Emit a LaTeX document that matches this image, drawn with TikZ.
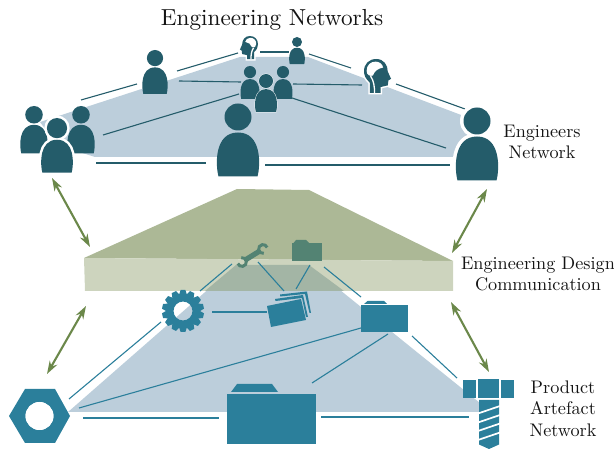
\documentclass[tikz,border=0pt]{standalone}
\usetikzlibrary{arrows.meta}
\definecolor{darkteal}{HTML}{245C6A}
\definecolor{artblue}{HTML}{2B7F9B}
\definecolor{planeblue}{HTML}{BCCEDB}
\definecolor{bandtop}{HTML}{ACB896}
\definecolor{bandfront}{HTML}{CDD4BE}
\definecolor{bandover}{HTML}{A3B5A5}
\definecolor{arrowgreen}{HTML}{6B884A}
\definecolor{bandicon}{HTML}{538373}
\font\labelfont="[lmroman10-regular]" at 18.2pt
\font\titlefont="[lmroman10-regular]" at 23.2pt
\newcommand\labelsetup{\labelfont\setlength{\baselineskip}{21.5pt}}
\tikzset{
  thinlink/.style={line width=1.1pt,line cap=butt},
  thicklink/.style={line width=2pt,line cap=butt},
  bothway/.style={arrowgreen,line width=2.1pt,{Stealth[length=13pt,width=8.5pt]}-{Stealth[length=13pt,width=8.5pt]}},
  label/.style={align=center,inner sep=0pt,font=\labelsetup,text=black!92},
}
% person: cx, top of head, scale, halo width
\newcommand\person[4]{%
  \begin{scope}[shift={(#1,#2)},scale=#3]
    \ifdim #4pt>0pt
      \draw[white,line width=#4pt,fill=white] (0,13.5) circle (13.5);
      \draw[white,line width=#4pt,fill=white] (-19.5,73) .. controls (-22.5,62) and (-24,29) .. (0,29) .. controls (24,29) and (22.5,62) .. (19.5,73) -- cycle;
    \fi
    \fill[darkteal] (0,13.5) circle (13.5);
    \fill[darkteal] (-19.5,73) .. controls (-22.5,62) and (-24,29) .. (0,29) .. controls (24,29) and (22.5,62) .. (19.5,73) -- cycle;
  \end{scope}}
% brain head: left edge, top, x scale (negative mirrors), y scale
\newcommand\brainhead[4]{%
  \begin{scope}[shift={(#1,#2)},xscale=#3,yscale=#4]
    \draw[white,line width=3pt,fill=white] (18,103) -- (18,72) .. controls (5,60) and (0,50) .. (0,37) .. controls (0,15) and (15,0) .. (37,0) .. controls (60,0) and (72,18) .. (72,38) -- (82,60) -- (74,65) -- (72,80) -- (50,85) -- (50,103) -- cycle;
    \fill[darkteal] (18,103) -- (18,72) .. controls (5,60) and (0,50) .. (0,37) .. controls (0,15) and (15,0) .. (37,0) .. controls (60,0) and (72,18) .. (72,38) -- (82,60) -- (74,65) -- (72,80) -- (50,85) -- (50,103) -- cycle;
    \fill[white] (8,36) .. controls (8,18) and (20,8) .. (35,8) .. controls (48,8) and (56,16) .. (58,26) .. controls (44,28) and (32,36) .. (27,50) .. controls (18,54) and (8,48) .. (8,36) -- cycle;
    \draw[white,line width=1.3pt] (20,52) .. controls (30,66) and (32,85) .. (32,103);
  \end{scope}}
\begin{document}
\begin{tikzpicture}[x=1pt,y=-1pt]
\useasboundingbox (0,0) rectangle (614,449);
% lower plane
\fill[planeblue] (68,412) -- (236,265) -- (309,265) -- (480,403) -- (480,412) -- cycle;
% band
\fill[bandtop] (84,258) -- (237,189) -- (309,190) -- (453,261) -- cycle;
\fill[bandfront] (84,258) -- (453,261) -- (453,291) -- (85,291) -- cycle;
\fill[bandover] (205,291) -- (236,265) -- (309,265) -- (344,291) -- cycle;
% upper plane
\fill[planeblue] (40,122) -- (240,57) -- (308,57) -- (477,121) -- (477,157) -- (95,157) -- (57,145) -- cycle;

% named ends of the links
\coordinate (pa1) at (81,100);   \coordinate (pb1) at (137,84);
\coordinate (pb2) at (177,71);   \coordinate (hl1) at (238,53);
\coordinate (hl2) at (260,52);   \coordinate (ps1) at (289,52);
\coordinate (ps2) at (309,54);   \coordinate (hr1) at (351,68);
\coordinate (hr2) at (396,84);   \coordinate (pr1) at (465,109);
\coordinate (pa2) at (96,163);   \coordinate (pc1) at (206,163);
\coordinate (pc2) at (265,165);  \coordinate (pr2) at (450,165);
\coordinate (pa3) at (103,135);  \coordinate (pg1) at (239,94);
\coordinate (pb3) at (179,81);   \coordinate (pg2) at (241,82);
\coordinate (pg3) at (293,84);   \coordinate (hr3) at (362,85);
\coordinate (pg4) at (292,98);   \coordinate (pr3) at (446,148);
\coordinate (nt1) at (69,399);   \coordinate (gr1) at (161,322);
\coordinate (nt2) at (79,408);   \coordinate (fr1) at (361,328);
\coordinate (nt3) at (83,418);   \coordinate (fb1) at (219,418);
\coordinate (fb2) at (321,417);  \coordinate (bo1) at (469,417);
\coordinate (fb3) at (312,383);  \coordinate (fr2) at (388,334);
\coordinate (fr3) at (412,336);  \coordinate (bo2) at (457,378);
\coordinate (gr2) at (212,312);  \coordinate (dc1) at (267,312);
\coordinate (fm1) at (324,267);  \coordinate (fr4) at (361,297);
\coordinate (gr3) at (200,291);  \coordinate (wr1) at (232,264);
\coordinate (wr2) at (258,262);  \coordinate (dc2) at (284,291);
\coordinate (fm2) at (310,265);  \coordinate (dc3) at (296,289);
\coordinate (ar1) at (52,178);   \coordinate (ar2) at (90,247);
\coordinate (ar3) at (86,306);   \coordinate (ar4) at (47,374);
\coordinate (ar5) at (487,189);  \coordinate (ar6) at (452,253);
\coordinate (ar7) at (451,302);  \coordinate (ar8) at (489,372);

% upper links
\begin{scope}[darkteal]
\draw[thinlink] (pa1) -- (pb1);
\draw[thinlink] (pb2) -- (hl1);
\draw[thicklink] (hl2) -- (ps1);
\draw[thinlink] (ps2) -- (hr1);
\draw[thinlink] (hr2) -- (pr1);
\draw[thicklink] (pa2) -- (pc1);
\draw[thicklink] (pc2) -- (pr2);
\draw[thinlink] (pa3) -- (pg1);
\draw[thinlink] (pb3) -- (pg2);
\draw[thinlink] (pg3) -- (hr3);
\draw[thinlink] (pg4) -- (pr3);
\end{scope}
% lower links
\begin{scope}[artblue]
\draw[thinlink] (nt1) -- (gr1);
\draw[thinlink] (nt2) -- (fr1);
\draw[thicklink] (nt3) -- (fb1);
\draw[thicklink] (fb2) -- (bo1);
\draw[thinlink] (fb3) -- (fr2);
\draw[thinlink] (fr3) -- (bo2);
\draw[thicklink] (gr2) -- (dc1);
\draw[thinlink] (fm1) -- (fr4);
\draw[thinlink] (gr3) -- (wr1);
\draw[thinlink] (wr2) -- (dc2);
\draw[thinlink] (fm2) -- (dc3);
\end{scope}
% arrows between layers
\draw[bothway] (ar1) -- (ar2);
\draw[bothway] (ar3) -- (ar4);
\draw[bothway] (ar5) -- (ar6);
\draw[bothway] (ar7) -- (ar8);

% engineers
\person{155}{50}{0.6}{0}
\person{297}{37}{0.37}{0}
\person{238}{103.5}{1}{0}
\person{477}{107.5}{1}{7}
\person{34}{106}{0.65}{0}
\person{81}{106}{0.65}{0}
\person{57}{118}{0.75}{5}
\person{250}{66}{0.45}{0}
\person{283}{66}{0.45}{0}
\person{266}{74}{0.52}{0.8}
\brainhead{258}{36}{-0.22}{0.225}
\brainhead{364}{59}{0.33}{0.33}

% gear
\begin{scope}[shift={(183,311)}]
  \fill[artblue,even odd rule] (0,0) circle (17) (0,0) circle (9.5);
  \foreach \a in {0,25.71,...,340} {
    \fill[artblue,rotate=\a] (-4,-16) -- (-2.4,-21) -- (2.4,-21) -- (4,-16) -- cycle;
  }
\end{scope}
% nut
\fill[artblue,even odd rule] (9,416) -- (25,389) -- (55,389) -- (70,416) -- (55,443) -- (25,443) -- cycle (39.5,416) circle (14);
\fill[white] (39.5,416) circle (14);
% folders
\fill[artblue] (227,394) rectangle (316,444);
\fill[artblue] (231,392) -- (237,384) -- (272,384) -- (278,392) -- cycle;
\fill[artblue] (361,305) rectangle (408,332);
\fill[artblue] (364,304) -- (367.5,301) -- (384,301) -- (387,304) -- cycle;
\fill[bandicon] (292,243) rectangle (322,261);
\fill[bandicon] (293.5,243) -- (296,240) -- (306,240) -- (309,243) -- cycle;
% documents
\fill[artblue] (267,306) -- (301,299) -- (306,320) -- (271,327) -- cycle;
\fill[artblue] (275,299) -- (303,295) -- (308,317) -- (306,317) -- (302,298) -- (275.5,301) -- cycle;
\fill[artblue] (280,294.5) -- (307,291.5) -- (311,313) -- (309.5,313) -- (305,294) -- (280,296.5) -- cycle;
% wrench
\begin{scope}[bandicon]
  \draw[line width=5.2pt] (246,259.5) -- (259,251.5);
  \draw[line width=3pt] (242,262) ++(-100:4.4) arc (-100:160:4.4);
  \draw[line width=3pt] (263,249) ++(80:4.4) arc (80:340:4.4);
\end{scope}
% bolt
\fill[artblue] (463,380) rectangle (476,398);
\fill[artblue] (478,379) rectangle (499,398);
\fill[artblue] (501,380) rectangle (514,398);
\fill[artblue] (479,400) -- (499,400) -- (499,444.5) -- (489,449) -- (479,444.5) -- cycle;
\foreach \yy in {413.5,422.5,431,440} {
  \draw[white,line width=1.7pt] (478,\yy) -- (500,\yy-7.5);
}

% labels
\node[label,font=\titlefont] (title) at (272,20) {Engineering Networks};
\node[label] (engnet) at (542,142) {Engineers\\Network};
\node[label] (edc) at (538,274) {Engineering Design\\Communication};
\node[label] (pan) at (563,408.5) {Product\\Artefact\\Network};
\end{tikzpicture}
\end{document}
